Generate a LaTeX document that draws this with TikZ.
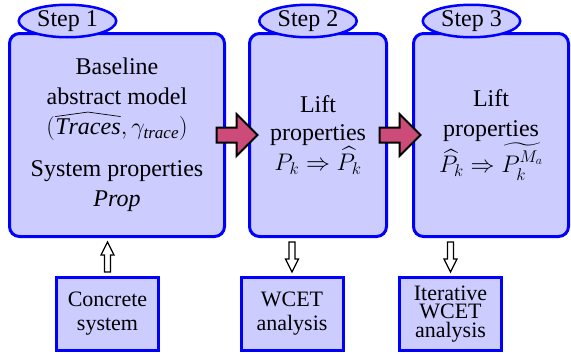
\RequirePackage{fix-cm}
\documentclass[tikz,border=0pt]{standalone}
\usepackage{exscale}
\usepackage{fontspec}
\setmainfont{Liberation Serif}
\DeclareMathSizes{24}{24}{17}{12}
\usetikzlibrary{calc,shapes.geometric}

\definecolor{boxfill}{RGB}{204,204,255}
\definecolor{boxline}{RGB}{0,0,255}
\definecolor{flowred}{RGB}{205,75,120}

% a wide hat drawn over a math expression
\newcommand\widehatover[1]{\tikz[baseline=(hb.base),x=1pt,y=1pt]{%
  \node[shape=rectangle,inner sep=0pt,outer sep=0pt,minimum width=0pt,minimum height=0pt,
        draw=none,fill=none,rounded corners=0pt] (hb) {$#1$};
  \draw[draw=black,line width=0.7pt,line join=round,rounded corners=0pt]
    ([yshift=2.5pt]hb.north west) -- ([yshift=7pt]hb.north) -- ([yshift=2.5pt]hb.north east);}}

\tikzset{
  stagebox/.style={draw=boxline, line width=3pt, fill=boxfill, rounded corners=10pt,
    align=center, inner sep=0pt},
  steptag/.style={ellipse, draw=boxline, line width=2.5pt, fill=boxfill, inner sep=0pt,
    minimum width=97.5pt, minimum height=32.5pt, font=\fontsize{24}{26}\selectfont},
  toolbox/.style={draw=boxline, line width=3pt, fill=boxfill, align=center, inner sep=0pt,
    minimum width=102pt, minimum height=73pt},
  flowarrow/.style={draw=black, line width=2pt, fill=flowred, line join=miter},
  feedarrow/.style={draw=black, line width=1.2pt, fill=white, line join=miter},
  pics/fatright/.style={code={
    \draw[flowarrow] (-20.5,-7.5) -- (-0.5,-7.5) -- (-0.5,-21) -- (20.5,0)
      -- (-0.5,21) -- (-0.5,7.5) -- (-20.5,7.5) -- cycle;}},
  pics/hollowup/.style={code={
    \draw[feedarrow] (-3,15) -- (-3,-2) -- (-6.5,-2) -- (0,-15) -- (6.5,-2)
      -- (3,-2) -- (3,15) -- cycle;}},
}

\begin{document}
\begin{tikzpicture}[x=1pt,y=-1pt]
  \useasboundingbox (0,0) rectangle (571,354);

  % the three stages
  \node[stagebox, minimum width=215pt, minimum height=203pt,
        font=\fontsize{24}{30}\selectfont] (b1) at (117,135)
    {Baseline\\ abstract model\\
     $(\widehatover{\mathit{Traces}}, \gamma_{\mathit{trace}})$\\[12pt]
     System properties\\ \textit{Prop}};
  \node[stagebox, minimum width=137pt, minimum height=203pt,
        font=\fontsize{24}{28}\selectfont] (b2) at (318,135)
    {Lift\\ properties\\ $P_k \Rightarrow \widehat{P_k}$};
  \node[stagebox, minimum width=155pt, minimum height=203pt,
        font=\fontsize{24}{30}\selectfont] (b3) at (491,135)
    {Lift\\ properties\\ $\widehat{P_k} \Rightarrow \widetilde{P_k^{M_a}}$};

  % step tags
  \node[steptag] (s1) at ($(b1.north west)+(59.5,-11)$) {Step 1};
  \node[steptag] (s2) at ($(b2.north west)+(60,-11)$) {Step 2};
  \node[steptag] (s3) at ($(b3.north west)+(59.5,-11)$) {Step 3};

  % inputs and analyses
  \node[toolbox, font=\fontsize{22}{24}\selectfont] (c1) at (107.5,314) {Concrete\\ system};
  \node[toolbox, font=\fontsize{22}{24}\selectfont] (c2) at (292,314) {WCET\\ analysis};
  \node[toolbox, font=\fontsize{22}{18.5}\selectfont] (c3) at (450.5,314) {Iterative\\ WCET\\ analysis};

  % flow between stages
  \pic at ($(b1.east)!0.5!(b2.west)$) {fatright};
  \pic at ($(b2.east)!0.5!(b3.west)$) {fatright};

  % links to the boxes below
  \pic at ($(c1.north)!0.5!(c1.north |- b1.south)$) {hollowup};
  \pic[rotate=180] at ($(c2.north)!0.5!(c2.north |- b2.south)$) {hollowup};
  \pic[rotate=180] at ($(c3.north)!0.5!(c3.north |- b3.south)$) {hollowup};
\end{tikzpicture}
\end{document}
